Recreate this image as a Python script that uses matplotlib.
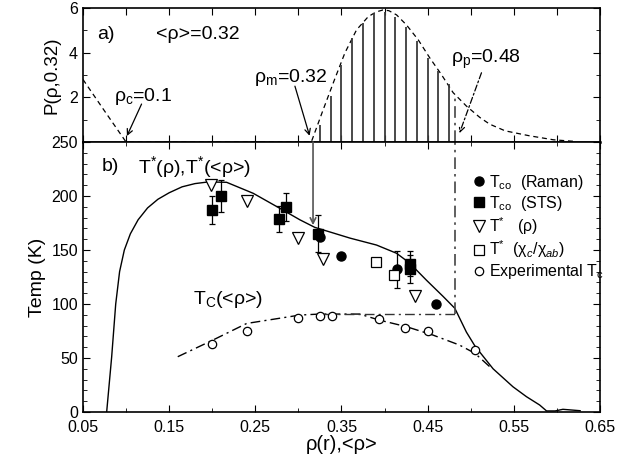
import matplotlib.pyplot as plt
from matplotlib.ticker import MultipleLocator

plt.rcParams['font.family'] = ['Liberation Sans', 'DejaVu Sans']
plt.rcParams['mathtext.fontset'] = 'custom'
plt.rcParams['mathtext.rm'] = 'Liberation Sans'
plt.rcParams['mathtext.it'] = 'Liberation Sans:italic'
plt.rcParams['mathtext.bf'] = 'Liberation Sans:bold'

# ---- panel a): distribution P(rho, 0.32) ----
p_x = [0.05, 0.0736, 0.10, 0.315, 0.329, 0.342, 0.354, 0.3675, 0.381, 0.39,
       0.398, 0.405, 0.414, 0.4255, 0.439, 0.4526, 0.466, 0.4796, 0.495,
       0.5106, 0.522, 0.54, 0.568, 0.596, 0.62]
p_y = [2.8, 1.47, 0.0, 0.0, 1.47, 2.8, 3.99, 5.02, 5.61, 5.82,
       5.91, 5.88, 5.69, 5.24, 4.58, 3.76, 3.02, 2.21, 1.61,
       1.1, 0.8, 0.5, 0.28, 0.1, 0.03]
hatch_x = [0.325, 0.3375, 0.35, 0.3625, 0.375, 0.3875, 0.40, 0.4125,
           0.425, 0.4375, 0.45, 0.4625, 0.475]
hatch_h = [0.76, 2.06, 3.47, 4.65, 5.35, 5.76, 5.84, 5.61,
           5.17, 4.5, 3.76, 3.17, 2.58]
rho_p = 0.4816
p_at_rho_p = 2.13
rho_m = 0.317

# ---- panel b): temperatures ----
tstar_x = [0.0775, 0.0833, 0.088, 0.0925, 0.098, 0.105, 0.114, 0.125, 0.137,
           0.15, 0.165, 0.18, 0.195, 0.2167, 0.2476, 0.2785, 0.3017, 0.319,
           0.36, 0.3907, 0.4139, 0.429, 0.4487, 0.468, 0.4816, 0.495, 0.505,
           0.526, 0.549, 0.5647, 0.58, 0.588, 0.598, 0.607, 0.627]
tstar_y = [0, 51, 100, 130, 150, 165, 178, 189, 197,
           203, 208.5, 211.5, 213, 212.7, 202.5, 188.6, 178, 171,
           161, 154.6, 147, 138, 122, 107, 96, 74, 61,
           40, 23.4, 14.2, 6.5, 1, 1, 2.5, 1.2]
tc_x = [0.16, 0.201, 0.24, 0.302, 0.325, 0.371, 0.3945, 0.4255, 0.456,
        0.487, 0.505, 0.522]
tc_y = [51.2, 66.7, 82, 89.8, 90.7, 90.7, 85, 79, 71.3,
        62, 54.3, 42]
tc_flat = 90.7
tc_flat_x0 = 0.33

raman_x = [0.325, 0.35, 0.414, 0.4595]
raman_y = [162, 144.4, 132, 100]
raman_err = [0, 0, 17, 0]
sts_x = [0.20, 0.21, 0.278, 0.286, 0.323, 0.43, 0.43]
sts_y = [187, 200, 179, 190, 165, 137.5, 132]
sts_err = [13, 15, 12, 13, 17, 11.5, 13]
tri_x = [0.199, 0.24, 0.30, 0.329, 0.435]
tri_y = [210, 195, 161, 141.5, 107.4]
chi_x = [0.39, 0.411]
chi_y = [139, 127]
exp_x = [0.20, 0.24, 0.30, 0.325, 0.339, 0.393, 0.4236, 0.45, 0.505]
exp_y = [62.7, 75.3, 86.7, 88.5, 89.2, 85.8, 78, 75, 57.4]

dash = (0, (4, 3))
dashdot = (0, (7, 3, 1.5, 3))

fig = plt.figure(figsize=(6.3, 4.62), dpi=100)
ax_a = fig.add_axes([0.1317, 0.6926, 0.8206, 0.2901])
ax_b = fig.add_axes([0.1317, 0.1082, 0.8206, 0.5844])

for ax in (ax_a, ax_b):
    ax.set_xlim(0.05, 0.65)
    ax.tick_params(direction='in', which='both', top=True, right=True, labelsize=11.5)
    ax.tick_params(which='major', length=5)
    ax.tick_params(which='minor', length=3)
    for s in ax.spines.values():
        s.set_linewidth(1.2)

# panel a
ax_a.plot(p_x, p_y, color='black', lw=0.9, ls=dash)
ax_a.vlines(hatch_x, 0, hatch_h, color='#3a3a3a', lw=1.3)
ax_a.plot([rho_p, rho_p], [0, p_at_rho_p], color='#444444', lw=1.2, ls=dashdot)
ax_a.set_ylim(0, 6)
ax_a.set_yticks([0, 2, 4, 6])
ax_a.set_yticklabels(['', '2', '4', '6'])
ax_a.yaxis.set_minor_locator(MultipleLocator(1))
ax_a.xaxis.set_major_locator(MultipleLocator(0.05))
ax_a.tick_params(axis='x', labelbottom=False)
ax_a.spines['bottom'].set_linewidth(1.8)
ax_a.set_ylabel('P(ρ,0.32)', fontsize=13.5, labelpad=6)

ax_a.text(0.067, 4.8, 'a)', fontsize=14, va='center')
ax_a.text(0.135, 4.8, '<ρ>=0.32', fontsize=14, va='center')
ax_a.text(0.086, 2.05, 'ρ$_{\\rm c}$=0.1', fontsize=14, va='center')
ax_a.text(0.249, 2.87, 'ρ$_{\\rm m}$=0.32', fontsize=14, va='center')
ax_a.text(0.477, 3.7, 'ρ$_{\\rm p}$=0.48', fontsize=14, va='center')
arr = dict(arrowstyle='->', lw=0.9, color='black', shrinkA=0, shrinkB=0)
ax_a.annotate('', xy=(0.101, 0.27), xytext=(0.118, 1.7), arrowprops=arr)
ax_a.annotate('', xy=(0.313, 0.28), xytext=(0.296, 2.5), arrowprops=arr)
ax_a.annotate('', xy=(0.487, 0.4), xytext=(0.5125, 3.1),
              arrowprops=dict(arr, linestyle=(0, (5, 2, 1.5, 2))))

# panel b
ax_b.plot(tstar_x, tstar_y, color='black', lw=1.0)
ax_b.plot(tc_x, tc_y, color='black', lw=1.0, ls=dashdot)
ax_b.plot([tc_flat_x0, rho_p], [tc_flat, tc_flat], color='#333333', lw=1.0, ls=dashdot)
ax_b.plot([rho_p, rho_p], [tc_flat, 250], color='#444444', lw=1.2, ls=dashdot)
ax_b.annotate('', xy=(rho_m, 173), xytext=(rho_m, 250),
              arrowprops=dict(arrowstyle='->', lw=1.2, color='#555555', shrinkA=0, shrinkB=0))

eb = dict(fmt='none', ecolor='black', elinewidth=0.9, capsize=2.5, capthick=0.9)
ax_b.errorbar(sts_x, sts_y, yerr=sts_err, **eb)
ax_b.errorbar(raman_x, raman_y, yerr=raman_err, **eb)
h_raman, = ax_b.plot(raman_x, raman_y, 'o', color='black', ms=6.5, ls='none',
                     label='T$_{\\rm co}$  (Raman)')
h_sts, = ax_b.plot(sts_x, sts_y, 's', color='black', ms=6.5, ls='none',
                   label='T$_{\\rm co}$  (STS)')
h_tri, = ax_b.plot(tri_x, tri_y, 'v', mfc='white', mec='black', mew=0.9, ms=8, ls='none',
                   label='T$^{*}$   (ρ)')
h_chi, = ax_b.plot(chi_x, chi_y, 's', mfc='white', mec='black', mew=0.9, ms=6.5, ls='none',
                   label='T$^{*}$  (χ$_{c}$/χ$_{ab}$)')
h_exp, = ax_b.plot(exp_x, exp_y, 'o', mfc='white', mec='black', mew=0.9, ms=6, ls='none',
                   label='Experimental T$_{\\rm c}$')

ax_b.legend(handles=[h_raman, h_sts, h_tri, h_chi, h_exp], loc='upper left',
            bbox_to_anchor=(0.755, 0.885), frameon=False, fontsize=11.5,
            handlelength=0.7, handletextpad=0.3, labelspacing=0.12,
            borderpad=0, borderaxespad=0)

ax_b.text(0.072, 227, 'b)', fontsize=14, va='center')
ax_b.text(0.114, 227, 'T$^{*}$(ρ),T$^{*}$(<ρ>)', fontsize=14, va='center')
ax_b.text(0.178, 104, 'T$_{\\rm C}$(<ρ>)', fontsize=14, va='center')

ax_b.set_ylim(0, 250)
ax_b.yaxis.set_major_locator(MultipleLocator(50))
ax_b.yaxis.set_minor_locator(MultipleLocator(10))
ax_b.xaxis.set_minor_locator(MultipleLocator(0.05))
ax_b.set_xticks([0.05, 0.15, 0.25, 0.35, 0.45, 0.55, 0.65])
ax_b.set_xticklabels(['0.05', '0.15', '0.25', '0.35', '0.45', '0.55', '0.65'])
ax_b.tick_params(axis='x', which='major', pad=5.5)
ax_b.set_xlabel('ρ(r),<ρ>', fontsize=14.5, labelpad=0)
ax_b.set_ylabel('Temp (K)', fontsize=14, labelpad=4)

fig.savefig('out.png', dpi=100)
